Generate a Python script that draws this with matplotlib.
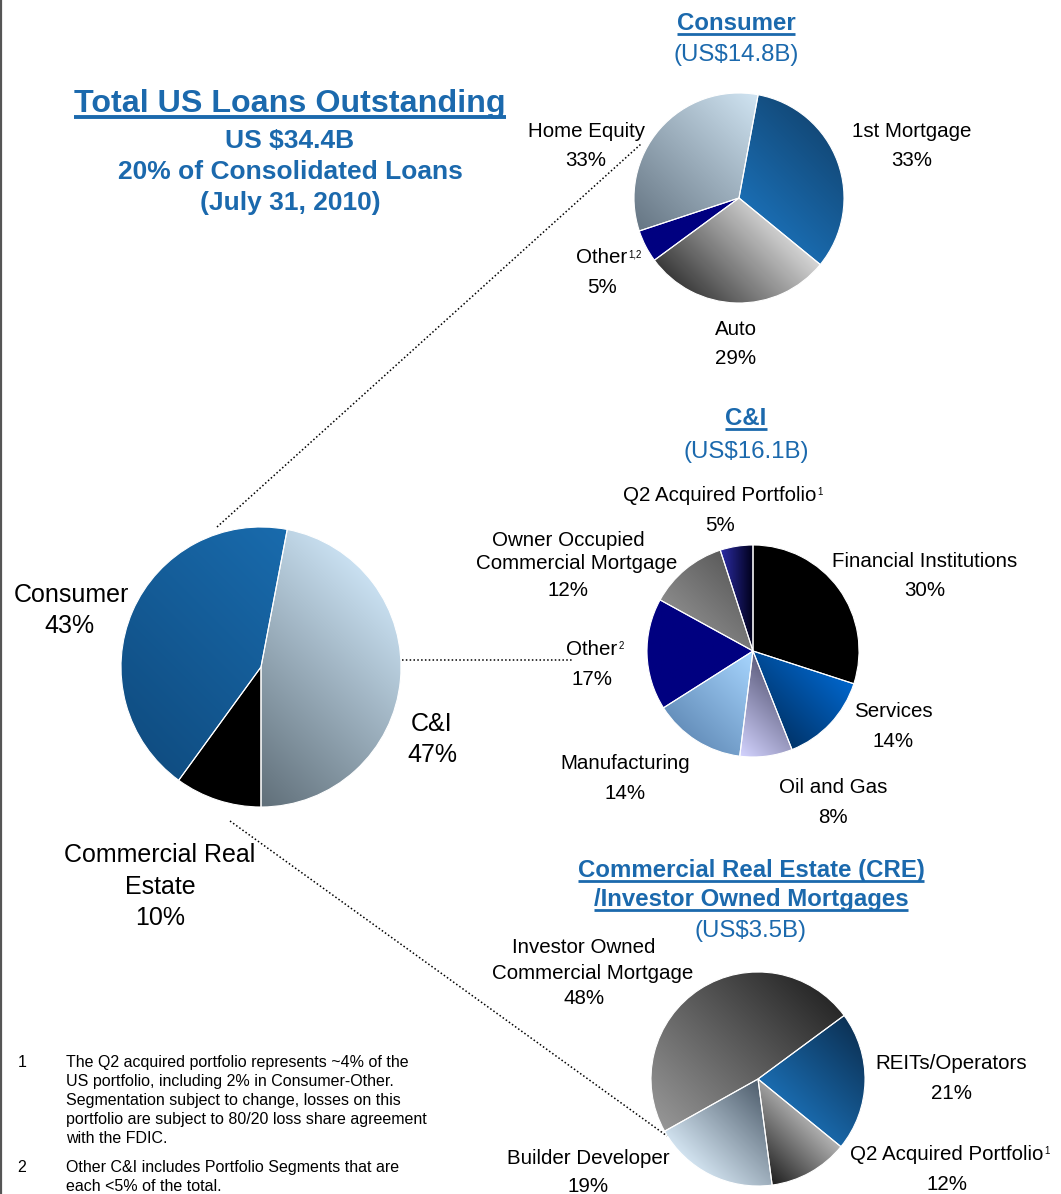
import numpy as np
import matplotlib.pyplot as plt
from matplotlib.colors import to_rgb

plt.rcParams['font.family'] = ['Liberation Sans', 'DejaVu Sans']

W, H = 1061, 1194
BLUE = '#1b69ad'

# data
main_labels = ["C&I", "Commercial Real\nEstate", "Consumer"]
main_values = [47, 10, 43]

consumer_labels = ["1st Mortgage", "Auto", "Other", "Home Equity"]
consumer_values = [33, 29, 5, 33]

ci_labels = ["Financial Institutions", "Services", "Oil and Gas", "Manufacturing",
             "Other", "Owner Occupied\nCommercial Mortgage", "Q2 Acquired Portfolio"]
ci_values = [30, 14, 8, 14, 17, 12, 5]

cre_labels = ["REITs/Operators", "Q2 Acquired Portfolio", "Builder Developer",
              "Investor Owned\nCommercial Mortgage"]
cre_values = [21, 12, 19, 48]

titles = ["Consumer", "C&I", "Commercial Real Estate (CRE)\n/Investor Owned Mortgages"]
amounts = ["(US$14.8B)", "(US$16.1B)", "(US$3.5B)"]
headline = ["Total US Loans Outstanding", "US $34.4B", "20% of Consolidated Loans", "(July 31, 2010)"]

footnotes = [
    ("1", ["The Q2 acquired portfolio represents ~4% of the",
           "US portfolio, including 2% in Consumer-Other.",
           "Segmentation subject to change, losses on this",
           "portfolio are subject to 80/20 loss share agreement",
           "with the FDIC."]),
    ("2", ["Other C&I includes Portfolio Segments that are",
           "each <5% of the total."]),
]

# gradient fills per slice: (start colour, end colour, direction in degrees)
main_fills = [("#c9e0f1", "#606f79", 225), ("#000000", "#000000", 0), ("#196bad", "#104e83", 225)]
consumer_fills = [("#1a6db2", "#134a7a", 45), ("#d6d6d6", "#3a3a3a", 225),
                  ("#000080", "#000080", 0), ("#d0e4f2", "#667684", 225)]
ci_fills = [("#000000", "#000000", 0), ("#0066cc", "#00346a", 225), ("#d4d4ff", "#5e5e7e", 45),
            ("#a8d6ff", "#6690bc", 225), ("#000080", "#000080", 0), ("#8a8a8a", "#5c5c5c", 45),
            ("#2d2da8", "#00001a", 0)]
cre_fills = [("#1a6cb0", "#0c3256", 45), ("#b4b4b4", "#1e1e1e", 225),
             ("#d2e3f0", "#4e5d6c", 45), ("#969696", "#282828", 45)]

fig = plt.figure(figsize=(W / 100, H / 100), dpi=100)
ax = fig.add_axes([0, 0, 1, 1])


def gradient_pie(values, cx, cy, r, start, fills):
    wedges, _ = ax.pie(values, center=(cx, H - cy), radius=r, startangle=start, counterclock=False,
                       wedgeprops=dict(facecolor='none', edgecolor='white', linewidth=0.8, zorder=3))
    yy, xx = np.mgrid[-1:1:300j, -1:1:300j]
    for w, (c0, c1, ang) in zip(wedges, fills):
        a = np.deg2rad(ang)
        th = np.deg2rad(np.linspace(w.theta1, w.theta2, 60))
        px = np.r_[0, np.cos(th)]
        py = np.r_[0, np.sin(th)]
        proj = px * np.cos(a) + py * np.sin(a)
        t = (xx * np.cos(a) + yy * np.sin(a) - proj.min()) / (proj.max() - proj.min() + 1e-9)
        t = np.clip(t, 0, 1)[..., None]
        img = np.array(to_rgb(c0)) * (1 - t) + np.array(to_rgb(c1)) * t
        im = ax.imshow(img, extent=(cx - r, cx + r, H - cy - r, H - cy + r), origin='lower',
                       zorder=2, interpolation='bilinear')
        im.set_clip_path(w)
    return wedges


gradient_pie(main_values, 261, 667, 140, 79.2, main_fills)
gradient_pie(consumer_values, 739, 198, 105, 79.5, consumer_fills)
gradient_pie(ci_values, 753, 651, 106, 90, ci_fills)
gradient_pie(cre_values, 758, 1079, 107, 36.4, cre_fills)

ax.set_xlim(0, W)
ax.set_ylim(0, H)
ax.set_aspect('equal')
ax.axis('off')


def txt(x, y, s, size, color='black', weight='normal', ha='center'):
    # y is the cap centre in image pixels
    base = y + 0.35 * size * 100 / 72
    return ax.text(x, H - base, s, fontsize=size, color=color, fontweight=weight,
                   ha=ha, va='baseline', zorder=5)


renderer = fig.canvas.get_renderer()


def underline(t, y, lw):
    bb = t.get_window_extent(renderer)
    ax.plot([bb.x0, bb.x1], [H - y, H - y], color=t.get_color(), lw=lw, solid_capstyle='butt', zorder=5)


def sup(t, s, size=7):
    bb = t.get_window_extent(renderer)
    ax.text(bb.x1 + 1, bb.y1 - 1, s, fontsize=size, ha='left', va='top', zorder=5)


def label(x, y, name, value, size=14.8, gap=29, sup_text=None):
    t = txt(x, y, name, size)
    if sup_text:
        sup(t, sup_text)
    txt(x, y + gap, f"{value}%", size)


# headline
t = txt(290, 101, headline[0], 23.2, BLUE, 'bold')
underline(t, 116.5, 2.8)
for i, s in enumerate(headline[1:]):
    txt(290, 139 + 31 * i, s, 19, BLUE, 'bold')

# sub-pie titles
t = txt(736, 22, titles[0], 17.3, BLUE, 'bold')
underline(t, 33.5, 2)
txt(736, 53, amounts[0], 17.3, BLUE)
t = txt(746, 417, titles[1], 17.3, BLUE, 'bold')
underline(t, 428.5, 2)
txt(746, 450, amounts[1], 17.3, BLUE)
l1, l2 = titles[2].split("\n")
t = txt(751, 869, l1, 17.3, BLUE, 'bold')
underline(t, 880.5, 2)
t = txt(751, 898, l2, 17.3, BLUE, 'bold')
underline(t, 909.5, 2)
txt(751, 929, amounts[2], 17.3, BLUE)

# main pie labels
txt(432, 722, main_labels[0], 18)
txt(432, 753, f"{main_values[0]}%", 18)
c1, c2 = main_labels[1].split("\n")
txt(160, 853, c1, 18)
txt(160, 885, c2, 18)
txt(160, 916, f"{main_values[1]}%", 18)
txt(71, 593, main_labels[2], 18)
txt(69, 624, f"{main_values[2]}%", 18)

# consumer labels
label(912, 130, consumer_labels[0], consumer_values[0])
label(736, 328, consumer_labels[1], consumer_values[1])
label(602, 256, consumer_labels[2], consumer_values[2], gap=30, sup_text="1,2")
label(586, 130, consumer_labels[3], consumer_values[3])

# C&I labels
label(925, 560, ci_labels[0], ci_values[0])
label(893, 710, ci_labels[1], ci_values[1], gap=30)
label(833, 786, ci_labels[2], ci_values[2], gap=30)
label(625, 762, ci_labels[3], ci_values[3], gap=30)
label(592, 648, ci_labels[4], ci_values[4], gap=30, sup_text="2")
o1, o2 = ci_labels[5].split("\n")
txt(568, 539, o1, 14.8)
txt(577, 562, o2, 14.8)
txt(568, 589, f"{ci_values[5]}%", 14.8)
label(720, 494, ci_labels[6], ci_values[6], gap=30, sup_text="1")

# CRE labels
label(951, 1062, cre_labels[0], cre_values[0], gap=30)
label(947, 1153, cre_labels[1], cre_values[1], gap=30, sup_text="1")
label(588, 1157, cre_labels[2], cre_values[2], gap=28)
i1, i2 = cre_labels[3].split("\n")
txt(584, 946, i1, 14.8)
txt(593, 972, i2, 14.8)
txt(584, 997, f"{cre_values[3]}%", 14.8)

# connector lines
dots = dict(color='black', lw=1.1, linestyle=(0, (1, 1.5)), zorder=4)
ax.plot([217, 641], [H - 527, H - 144], **dots)
ax.plot([402, 572], [H - 660, H - 660], **dots)
ax.plot([230, 667], [H - 821, H - 1136], **dots)

# footnotes
y = 1061
for num, lines in footnotes:
    txt(22, y, num, 11.5)
    for line in lines:
        txt(66, y, line, 11.5, ha='left')
        y += 19
    y += 10

# left border
ax.plot([0.8, 0.8], [0, H], color='#555555', lw=1.6, zorder=6)

fig.savefig("out.png", dpi=100)
